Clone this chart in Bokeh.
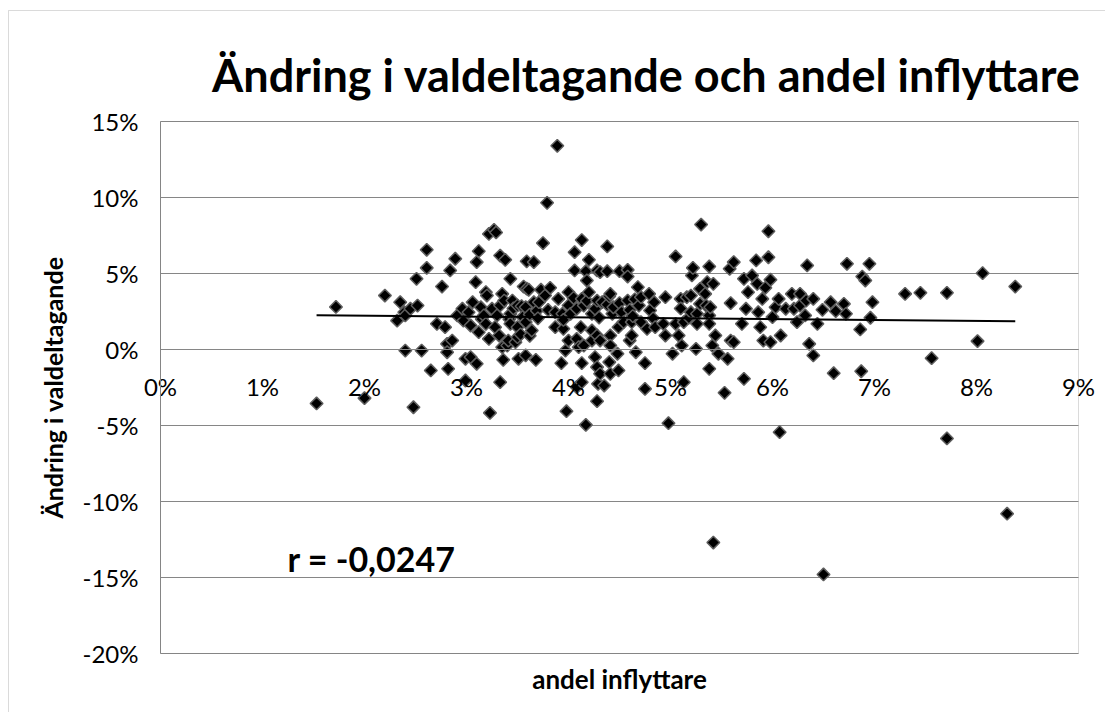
import numpy as np
from bokeh.plotting import figure
from bokeh.models import Label, PrintfTickFormatter, FixedTicker, ColumnDataSource, BoxAnnotation
from bokeh.embed import file_html
from bokeh.resources import INLINE

TITLE = "Ändring i valdeltagande och andel inflyttare"
X_LABEL = "andel inflyttare"
Y_LABEL = "Ändring i valdeltagande"
R_VALUE = -0.0247
R_TEXT = "r = -0,0247"
X_TICKS = [0, 1, 2, 3, 4, 5, 6, 7, 8, 9]
Y_TICKS = [-20, -15, -10, -5, 0, 5, 10, 15]

# andel inflyttare (%)
inflyttare = [
    1.53, 1.72, 2.0, 2.2, 2.32, 2.35, 2.39, 2.4, 2.4, 2.45, 2.48,
    2.51, 2.52, 2.56, 2.61, 2.61, 2.65, 2.71, 2.76, 2.79, 2.81, 2.81, 2.82, 2.84, 2.86, 2.89, 2.91, 2.96, 2.97, 2.99, 2.99,
    3.02, 3.04, 3.04, 3.06, 3.09, 3.1, 3.1, 3.12, 3.12, 3.14, 3.15, 3.17, 3.19, 3.19, 3.2, 3.22, 3.22, 3.23, 3.25, 3.27,
    3.28, 3.29, 3.3, 3.32, 3.33, 3.33, 3.33, 3.35, 3.35, 3.36, 3.37, 3.38, 3.4, 3.41, 3.42, 3.43, 3.43, 3.43, 3.45, 3.46,
    3.48, 3.5, 3.5, 3.5,
    3.51, 3.53, 3.54, 3.55, 3.56, 3.58, 3.58, 3.58, 3.59, 3.59, 3.61, 3.62, 3.62, 3.64, 3.66, 3.66, 3.68, 3.69, 3.7, 3.71,
    3.73, 3.75, 3.77, 3.79, 3.8, 3.82, 3.87, 3.87, 3.89, 3.9, 3.93, 3.94, 3.95, 3.95, 3.97, 3.98,
    4.0, 4.0, 4.0, 4.02, 4.05, 4.06, 4.06, 4.08, 4.08, 4.08, 4.1, 4.12, 4.13, 4.13, 4.13, 4.13, 4.15, 4.15, 4.17, 4.17,
    4.18, 4.18, 4.2, 4.2, 4.23, 4.23, 4.23, 4.26, 4.26, 4.28, 4.28, 4.28, 4.28, 4.28, 4.29, 4.3, 4.31, 4.31, 4.31, 4.33,
    4.35, 4.38, 4.38, 4.38, 4.4, 4.4, 4.41, 4.41, 4.41, 4.41, 4.43, 4.44, 4.48, 4.49, 4.49, 4.5, 4.5,
    4.52, 4.54, 4.58, 4.58, 4.58, 4.6, 4.6, 4.62, 4.62, 4.63, 4.65, 4.66, 4.68, 4.69, 4.71, 4.71, 4.75, 4.75, 4.77, 4.79,
    4.8, 4.83, 4.84, 4.85, 4.93, 4.95, 4.95, 4.98,
    5.02, 5.05, 5.05, 5.08, 5.1, 5.1, 5.11, 5.13, 5.13, 5.16, 5.18, 5.2, 5.2, 5.21, 5.22, 5.25, 5.26, 5.26, 5.29, 5.29,
    5.3, 5.34, 5.35, 5.36, 5.38, 5.38, 5.38, 5.38, 5.39, 5.41, 5.42, 5.42, 5.44, 5.47,
    5.53, 5.56, 5.58, 5.59, 5.59, 5.62, 5.62, 5.7, 5.72, 5.72, 5.74, 5.76, 5.8, 5.84, 5.85, 5.86, 5.88, 5.9, 5.91, 5.93,
    5.96, 5.96, 5.98, 5.98,
    6.0, 6.03, 6.06, 6.07, 6.08, 6.13, 6.19, 6.21, 6.24, 6.27, 6.27, 6.32, 6.33, 6.34, 6.36, 6.4, 6.4, 6.44, 6.49, 6.5,
    6.57, 6.6, 6.62, 6.7, 6.72, 6.73, 6.86, 6.87, 6.88, 6.91, 6.95, 6.96, 6.98,
    7.3, 7.45, 7.56, 7.71, 7.71, 8.01, 8.06, 8.3, 8.38,
]

# ändring i valdeltagande (%)
valdeltagande = [
    -3.55, 2.8, -3.2, 3.55, 1.9, 3.11, 2.45, 2.24, -0.07, 2.68, -3.8,
    4.65, 2.89, -0.07, 6.56, 5.37, -1.38, 1.69, 4.14, 1.47, 0.37, -0.18, -1.27, 5.2, 0.59, 5.97, 2.24, 2.68, 1.9, -0.61, -2.04,
    2.45, 1.58, -0.5, 3.11, 4.43, 5.75, -0.94, 6.47, 1.14, 2.78, 2.0, 2.24, 3.77, 1.69, 3.55, 7.6, 0.7, -4.17, 2.68, 7.87,
    1.47, 7.7, 2.24, 0.92, 6.18, 2.9, -2.15, 3.66, 0.15, -0.68, 3.22, 5.9, 0.26, 0.59, 2.0, 4.65, 2.35, 1.69, 3.22, 2.7,
    0.48, 2.89, 1.47, 0.81,
    -0.61, 1.0, 2.85, 2.13, 4.14, 1.8, 2.78, -0.39, 5.8, 4.0, 3.93, 0.9, 2.3, 1.25, 5.75, 3.11, -0.68, 2.55, 2.05, 3.11,
    3.93, 7.0, 3.55, 9.65, 2.6, 4.06, 2.45, 1.47, 13.4, 3.33, -0.9, 2.35, 1.36, 1.95, -0.07, -4.06,
    3.77, 2.9, 0.59, 2.35, 3.4, 6.4, 5.2, 2.68, 0.7, -2.48, 0.15, 1.47, 7.2, 3.33, -0.9, -2.15, 2.89, 0.26, 5.15, -4.96,
    4.54, 3.2, 5.9, 3.77, 2.35, 1.25, 0.59, 2.68, -0.5, 5.2, 3.22, 0.92, -1.16, -3.4, -2.26, 2.1, 5.09, 0.59, -1.6, 3.11,
    -2.37, 5.15, 6.78, 2.95, 3.5, -0.83, 3.66, 0.92, 0.26, -1.6, 2.35, 2.78, -0.28, 1.47, -1.38, 5.15, 3.05,
    2.45, 1.8, 5.24, 4.8, 3.22, 0.59, 2.6, 1.8, 0.92, 2.2, 3.3, -0.18, 4.1, 2.89, 3.44, 1.8, -0.9, -2.59, 1.36, 3.66,
    2.57, 2.05, 3.11, 1.47, 1.69, 3.44, 0.92, -4.85,
    -0.28, 6.12, 1.69, 0.92, 3.33, 2.7, 0.26, 1.8, -2.15, 3.44, 2.1, 3.55, 2.45, 4.87, 5.37, 0.04, 2.35, 1.69, 3.99, 3.0,
    8.22, 3.66, 2.89, 4.43, 5.46, 2.24, 1.69, -1.27, 2.78, 0.26, 4.32, -12.7, 0.92, -0.28,
    -2.85, -0.61, 5.31, 3.05, 0.59, 5.75, 0.48, 1.69, 4.65, -1.93, 2.68, 3.77, 4.87, 5.86, 4.32, 2.45, 1.47, 3.33, 0.59, 4.06,
    7.78, 6.07, 4.59, 0.48,
    2.13, 2.78, 3.33, -5.44, 0.92, 2.68, 3.66, 2.68, 1.8, 3.66, 2.89, 2.24, 3.22, 5.53, 0.37, -0.39, 3.33, 1.69, 2.61, -14.8,
    3.11, -1.56, 2.52, 3.0, 2.35, 5.64, 1.32, -1.43, 4.8, 4.54, 5.64, 2.09, 3.11,
    3.66, 3.73, -0.57, 3.73, -5.85, 0.55, 5.02, -10.8, 4.14,
]

FONT = "Lato"
GREY = "#868686"

W, H = 1105, 712
# pixel geometry of the plot area within the figure
PX0, PX1 = 160.0, 1078.0      # x = 0% .. 9%
PY0, PPU = 349.0, 15.2        # y = 0% at 349 px, px per percent
ppx = (PX1 - PX0) / 9.0
x_range = (-PX0 / ppx, (W - PX0) / ppx)
y_range = ((PY0 - H) / PPU, PY0 / PPU)

p = figure(width=W, height=H, x_range=x_range, y_range=y_range,
           output_backend="svg", toolbar_location=None,
           min_border_left=0, min_border_right=0, min_border_top=0, min_border_bottom=0)
p.outline_line_color = None
p.xgrid.visible = False
p.ygrid.visible = False

# horizontal gridlines limited to the plot area (x from first to last x tick)
p.segment(x0=[X_TICKS[0]] * len(Y_TICKS), x1=[X_TICKS[-1]] * len(Y_TICKS),
          y0=Y_TICKS, y1=Y_TICKS, line_color=GREY, line_width=1)

# chart-area border and plot-area border
p.add_layout(BoxAnnotation(left=(8 - PX0) / ppx, top=(PY0 - 10) / PPU, right=100, bottom=-100,
                           fill_alpha=0, line_color=GREY, line_width=1))
p.add_layout(BoxAnnotation(left=X_TICKS[0], right=X_TICKS[-1], bottom=Y_TICKS[0], top=Y_TICKS[-1],
                           fill_alpha=0, line_color=GREY, line_width=1))

# x axis crossing at 0
p.xaxis.fixed_location = 0
p.xaxis.bounds = (X_TICKS[0], X_TICKS[-1])
p.xaxis.ticker = FixedTicker(ticks=X_TICKS)
p.xaxis.formatter = PrintfTickFormatter(format="%d%%")
p.xaxis.axis_line_color = GREY
p.xaxis.major_tick_out = 0
p.xaxis.major_tick_in = 0
p.xaxis.minor_tick_out = 0
p.xaxis.minor_tick_in = 0
p.xaxis.major_label_standoff = 22
p.xaxis.major_label_text_font = FONT
p.xaxis.major_label_text_font_size = "24px"
p.xaxis.major_label_text_color = "black"

p.yaxis.fixed_location = 0
p.yaxis.bounds = (Y_TICKS[0], Y_TICKS[-1])
p.yaxis.ticker = FixedTicker(ticks=Y_TICKS)
p.yaxis.formatter = PrintfTickFormatter(format="%d%%")
p.yaxis.axis_line_color = GREY
p.yaxis.major_tick_out = 0
p.yaxis.major_tick_in = 0
p.yaxis.minor_tick_out = 0
p.yaxis.minor_tick_in = 0
p.yaxis.major_label_standoff = 22
p.yaxis.major_label_text_font = FONT
p.yaxis.major_label_text_font_size = "24px"
p.yaxis.major_label_text_color = "black"
p.yaxis.axis_label = Y_LABEL
p.yaxis.axis_label_text_font = FONT
p.yaxis.axis_label_text_font_style = "bold"
p.yaxis.axis_label_text_font_size = "25px"
p.yaxis.axis_label_text_color = "black"
p.yaxis.axis_label_standoff = 12

src = ColumnDataSource(data=dict(x=inflyttare, y=valdeltagande))
p.scatter("x", "y", source=src, marker="square", angle=np.pi / 4, size=9,
          fill_color="black", line_color="#5f5f5f", line_width=1.5)

# linear trend line: slope from the reported r, through the means
xa = np.array(inflyttare)
ya = np.array(valdeltagande)
slope = R_VALUE * ya.std() / xa.std()
intercept = ya.mean() - slope * xa.mean()
tx = [xa.min(), xa.max()]
ty = [intercept + slope * v for v in tx]
p.line(tx, ty, line_color="black", line_width=2)

p.add_layout(Label(x=(646 - PX0) / ppx, y=(PY0 - 74) / PPU, text=TITLE, text_align="center",
                   text_baseline="alphabetic", text_font=FONT, text_font_style="bold",
                   text_font_size="45px", text_color="black"))
p.add_layout(Label(x=(287 - PX0) / ppx, y=(PY0 - 558) / PPU, text=R_TEXT, text_align="left",
                   text_baseline="alphabetic", text_font=FONT, text_font_style="bold",
                   text_font_size="34px", text_color="black"))
p.add_layout(Label(x=(619 - PX0) / ppx, y=(PY0 - 678) / PPU, text=X_LABEL, text_align="center",
                   text_baseline="middle", text_font=FONT, text_font_style="bold",
                   text_font_size="26px", text_color="black"))

open("out.html", "w").write(file_html(p, INLINE))
